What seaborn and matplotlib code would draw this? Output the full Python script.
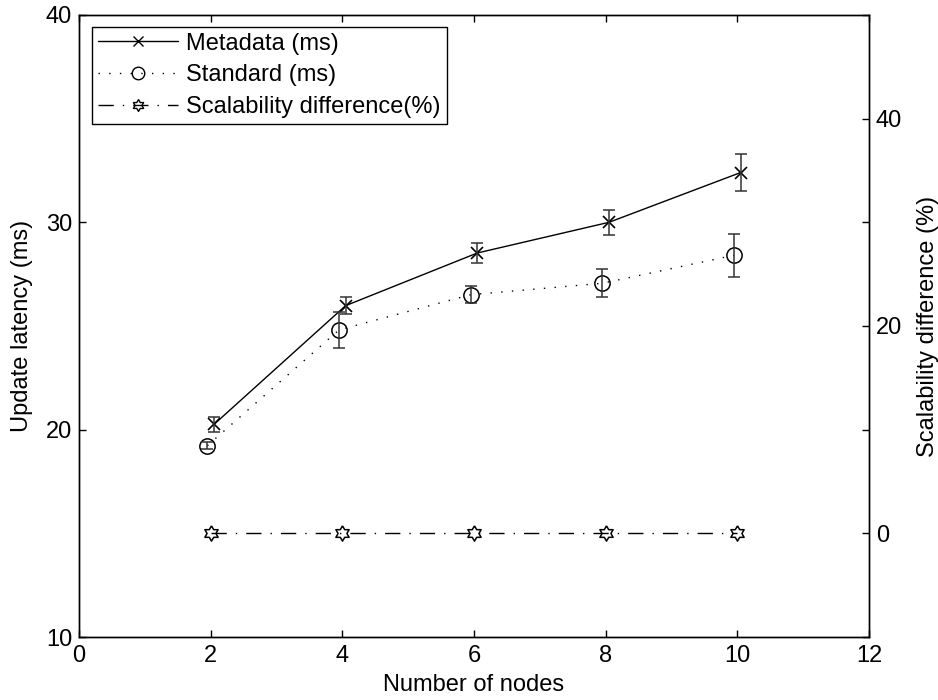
import numpy as np
import pandas as pd
import matplotlib
matplotlib.use('Agg')
import matplotlib.pyplot as plt
from matplotlib.lines import Line2D
import seaborn as sns

# ---------------- data ----------------
nodes = [2, 4, 6, 8, 10]
metadata_ms = [20.25, 25.98, 28.52, 30.0, 32.4]
metadata_err = [0.37, 0.40, 0.46, 0.60, 0.90]
standard_ms = [19.23, 24.81, 26.51, 27.06, 28.41]
standard_err = [0.18, 0.87, 0.42, 0.67, 1.05]
scalability_pct = [0, 0, 0, 0, 0]

x_ticks = [0, 2, 4, 6, 8, 10, 12]
left_ticks = [10, 20, 30, 40]
right_ticks = [-10, 0, 10, 20, 30, 40, 50]
right_tick_labels = ['', '0', '', '20', '', '40', '']

labels = ['Metadata (ms)', 'Standard (ms)', 'Scalability difference(%)']

# ---------------- style ----------------
sns.set_style('white')
plt.rcParams['font.family'] = ['Liberation Sans', 'DejaVu Sans']
plt.rcParams['font.size'] = 17
plt.rcParams['text.color'] = 'black'
plt.rcParams['axes.labelcolor'] = 'black'
plt.rcParams['xtick.color'] = 'black'
plt.rcParams['ytick.color'] = 'black'
plt.rcParams['axes.linewidth'] = 1.0
plt.rcParams['xtick.direction'] = 'in'
plt.rcParams['ytick.direction'] = 'in'

dodge = 0.05
df_meta = pd.DataFrame({'x': np.array(nodes) + dodge, 'y': metadata_ms, 'e': metadata_err})
df_std = pd.DataFrame({'x': np.array(nodes) - dodge, 'y': standard_ms, 'e': standard_err})
df_sc = pd.DataFrame({'x': nodes, 'y': scalability_pct})

# hexagram marker
ang_out = np.deg2rad(90 + 60 * np.arange(6))
ang_in = ang_out + np.deg2rad(30)
r_in = 1 / np.sqrt(3)
verts = []
for ao, ai in zip(ang_out, ang_in):
    verts.append((np.cos(ao), np.sin(ao)))
    verts.append((r_in * np.cos(ai), r_in * np.sin(ai)))
verts.append(verts[0])

fig = plt.figure(figsize=(9.38, 7.0), dpi=100)
ax = fig.add_axes([0.0842, 0.09, 0.8422, 0.8886])
ax2 = ax.twinx()

dotted = (0, (1, 6.7))
dashdot = (0, (11, 6.5, 1, 6.5))

sns.lineplot(data=df_meta, x='x', y='y', ax=ax, color='black', lw=1.0,
             marker='x', markersize=8, markeredgewidth=1.2, markeredgecolor='black',
             legend=False)
ax.errorbar(df_meta['x'], df_meta['y'], yerr=df_meta['e'], fmt='none',
            ecolor='#333333', elinewidth=1.1, capsize=4, capthick=1.1)

sns.lineplot(data=df_std, x='x', y='y', ax=ax, color='black', lw=1.0,
             linestyle=dotted, marker='o', markersize=11, markerfacecolor='none',
             markeredgecolor='black', markeredgewidth=1.1, legend=False)
ax.errorbar(df_std['x'], df_std['y'], yerr=df_std['e'], fmt='none',
            ecolor='#333333', elinewidth=1.1, capsize=4, capthick=1.1)

sns.lineplot(data=df_sc, x='x', y='y', ax=ax2, color='black', lw=1.0,
             linestyle=dashdot, marker=verts, markersize=11, markerfacecolor='none',
             markeredgecolor='black', markeredgewidth=1.1, legend=False)

ax.set_xlim(0, 12)
ax.set_ylim(10, 40)
ax2.set_ylim(-10, 50)
ax.set_xticks(x_ticks)
ax.set_xticklabels([str(t) for t in x_ticks])
ax.set_yticks(left_ticks)
ax.set_yticklabels([str(t) for t in left_ticks])
ax2.set_yticks(right_ticks)
ax2.set_yticklabels(right_tick_labels)

ax.tick_params(axis='x', which='both', top=True, bottom=True, length=5, width=1, pad=6)
ax.tick_params(axis='y', which='both', left=True, right=False, length=5, width=1, pad=5)
ax2.tick_params(axis='y', which='both', right=True, left=False, length=5, width=1, pad=5)

ax.set_xlabel('Number of nodes', labelpad=5)
ax.set_ylabel('Update latency (ms)', labelpad=9)
ax2.set_ylabel('Scalability difference (%)', labelpad=11)

for a in (ax, ax2):
    for s in a.spines.values():
        s.set_visible(True)
        s.set_color('black')
        s.set_linewidth(1.0)

handles = [
    Line2D([], [], color='black', lw=1.0, marker='x', markersize=6.5, markeredgewidth=1.0),
    Line2D([], [], color='black', lw=1.0, linestyle=dotted, marker='o', markersize=9,
           markerfacecolor='none', markeredgewidth=1.0),
    Line2D([], [], color='black', lw=1.0, linestyle=dashdot, marker=verts, markersize=8.5,
           markerfacecolor='none', markeredgewidth=1.0),
]
leg = ax2.legend(handles, labels, loc='upper left', bbox_to_anchor=(0.0165, 0.981),
                 borderaxespad=0, frameon=True, fancybox=False, edgecolor='black',
                 framealpha=1, handlelength=3.4, handletextpad=0.35, labelspacing=0.41,
                 borderpad=0.25, fontsize=17)
leg.get_frame().set_linewidth(1.0)

fig.savefig('out.png', dpi=100)
